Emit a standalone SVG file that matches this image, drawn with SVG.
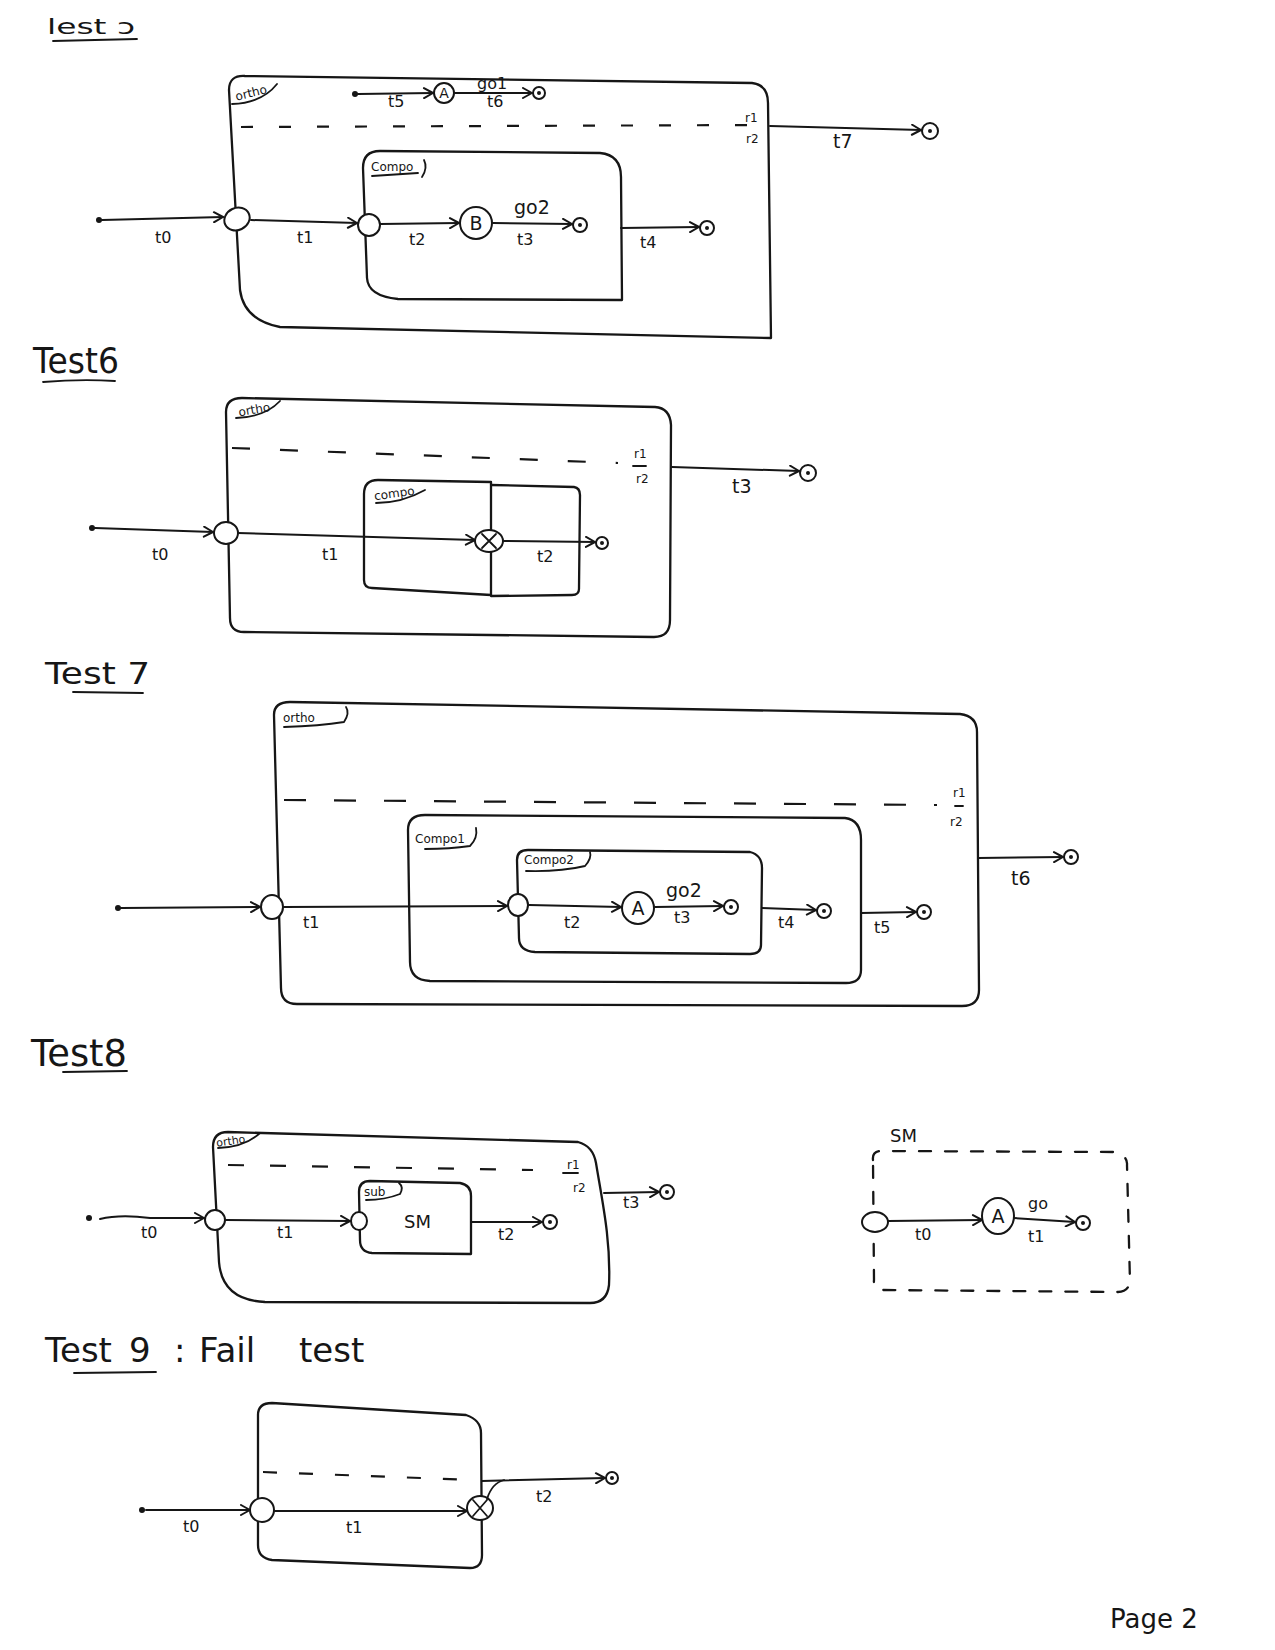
<svg xmlns="http://www.w3.org/2000/svg" width="1275" height="1650" viewBox="0 0 1275 1650">
  <defs>
    <style>
      .box { fill: none; stroke: #161616; stroke-width: 2.3; stroke-linejoin: round; stroke-linecap: round; }
      .ln { fill: none; stroke: #161616; stroke-width: 1.8; stroke-linecap: round; }
      .dash { fill: none; stroke: #161616; stroke-width: 2.2; }
      .edge { fill: none; stroke: #161616; stroke-width: 2; stroke-linecap: round; marker-end: url(#arr); }
      .st { fill: #fff; stroke: #161616; stroke-width: 2; }
      .fin { fill: #fff; stroke: #161616; stroke-width: 2; }
      .dot { fill: #161616; }
      .t { font-family: "DejaVu Sans", "Liberation Sans", sans-serif; fill: #161616; }
      .title { font-size: 32px; }
      .lbl { font-size: 16px; }
      .tag { font-size: 12px; }
      .big { font-size: 19px; }
    </style>
    <marker id="arr" viewBox="0 0 12 12" refX="11" refY="6" markerWidth="12" markerHeight="12" orient="auto" markerUnits="userSpaceOnUse">
      <path d="M2,1 L11,6 L2,11" fill="none" stroke="#161616" stroke-width="2" stroke-linecap="round" stroke-linejoin="round"/>
    </marker>
  </defs>

  <rect width="1275" height="1650" fill="#fff"/>

  <!-- ===== titles ===== -->
  <g id="titles">
    <text class="t" x="47" y="34" font-size="22" textLength="88" lengthAdjust="spacingAndGlyphs">lest ɔ</text>
    <path class="ln" d="M53,41 L137,39"/>
    <text class="t" x="33" y="373" font-size="36" textLength="86" lengthAdjust="spacingAndGlyphs">Test6</text>
    <path class="ln" d="M43,382 Q80,379 115,381"/>
    <text class="t" x="45" y="684" font-size="30" textLength="105" lengthAdjust="spacingAndGlyphs">Test  7</text>
    <path class="ln" d="M73,692 L143,693"/>
    <text class="t" x="31" y="1066" font-size="38" textLength="96" lengthAdjust="spacingAndGlyphs">Test8</text>
    <path class="ln" d="M63,1072 L127,1071"/>
    <text class="t" y="1362" font-size="34"><tspan x="45">Test</tspan><tspan x="129">9</tspan><tspan x="174">:</tspan><tspan x="199">Fail</tspan><tspan x="299">test</tspan></text>
    <path class="ln" d="M74,1373 L156,1372"/>
    <text class="t" x="1110" y="1628" font-size="26">Page 2</text>
  </g>

  <!-- ===== test 5 nodes ===== -->
  <g id="t5-ortho">
    <path class="box" d="M229,90 Q229,75 245,76 L752,83 Q768,85 768,103 L771,338 L280,327 Q244,320 240,290 Z"/>
    <text class="t tag" x="235" y="96" transform="rotate(-14 255 92)">ortho</text>
    <path class="ln" d="M232,104 Q262,103 277,84"/>
    <path class="dash" d="M241,127 L756,125" stroke-dasharray="12 26"/>
    <text class="t tag" x="745" y="122">r1</text>
    <text class="t tag" x="746" y="143">r2</text>
  </g>
  <g id="t5-init-top"><circle class="dot" cx="355" cy="94" r="3"/></g>
  <g id="t5-A"><circle class="st" cx="444" cy="93" r="10"/><text class="t" x="444" y="98" font-size="14" text-anchor="middle">A</text></g>
  <g id="t5-final-top"><circle class="fin" cx="539" cy="93" r="6"/><circle class="dot" cx="539" cy="93" r="2"/></g>
  <g id="t5-compo">
    <path class="box" d="M363,168 Q363,151 380,151 L600,153 Q621,155 621,177 L622,300 L398,299 Q368,296 367,278 Z"/>
    <text class="t tag" x="371" y="171" font-size="13">Compo</text>
    <path class="ln" d="M372,176 L418,173 M424,160 Q428,168 422,177"/>
  </g>
  <g id="t5-init"><circle class="dot" cx="99" cy="220" r="3"/></g>
  <g id="t5-entry"><ellipse class="st" cx="237" cy="219" rx="13" ry="11" transform="rotate(-25 237 219)"/></g>
  <g id="t5-compo-entry"><circle class="st" cx="369" cy="225" r="11"/></g>
  <g id="t5-B"><circle class="st" cx="476" cy="223" r="16"/><text class="t" x="476" y="230" font-size="19" text-anchor="middle">B</text></g>
  <g id="t5-final-compo"><circle class="fin" cx="580" cy="225" r="7"/><circle class="dot" cx="580" cy="225" r="2"/></g>
  <g id="t5-final-ortho"><circle class="fin" cx="707" cy="228" r="7"/><circle class="dot" cx="707" cy="228" r="2"/></g>
  <g id="t5-final-out"><circle class="fin" cx="930" cy="131" r="8"/><circle class="dot" cx="930" cy="131" r="2"/></g>

  <!-- ===== test 6 nodes ===== -->
  <g id="t6-ortho">
    <path class="box" d="M226,412 Q226,398 242,398 L655,407 Q670,408 671,425 L670,620 Q670,637 654,637 L244,632 Q230,632 230,618 Z"/>
    <text class="t tag" x="238" y="413" transform="rotate(-10 258 408)">ortho</text>
    <path class="ln" d="M236,418 Q265,417 280,401"/>
    <path class="dash" d="M232,448 L618,463" stroke-dasharray="18 30"/>
    <text class="t tag" x="634" y="458" font-size="13">r1</text>
    <path class="ln" d="M633,466 L646,466"/>
    <text class="t tag" x="636" y="483" font-size="13">r2</text>
  </g>
  <g id="t6-compo">
    <path class="box" d="M364,494 Q364,480 378,480 L491,482 L491,595 L372,588 Q364,588 364,580 Z"/>
    <path class="box" d="M491,485 L574,487 Q580,488 580,495 L579,589 Q579,595 572,595 L491,596"/>
    <text class="t tag" x="374" y="497" transform="rotate(-8 398 493)">compo</text>
    <path class="ln" d="M376,503 Q402,503 425,490"/>
  </g>
  <g id="t6-init"><circle class="dot" cx="92" cy="528" r="3"/></g>
  <g id="t6-entry"><ellipse class="st" cx="226" cy="533" rx="12" ry="11"/></g>
  <g id="t6-exit">
    <ellipse class="st" cx="489" cy="541" rx="14" ry="11"/>
    <path class="ln" d="M482,534 L496,548 M496,534 L482,548"/>
  </g>
  <g id="t6-final"><circle class="fin" cx="602" cy="543" r="6"/><circle class="dot" cx="602" cy="543" r="2"/></g>
  <g id="t6-final-out"><circle class="fin" cx="808" cy="473" r="8"/><circle class="dot" cx="808" cy="473" r="2"/></g>

  <!-- ===== test 7 nodes ===== -->
  <g id="t7-ortho">
    <path class="box" d="M274,715 Q274,702 290,702 L960,714 Q977,716 977,732 L979,990 Q979,1006 962,1006 L297,1004 Q281,1004 281,988 Z"/>
    <text class="t tag" x="283" y="722" font-size="13">ortho</text>
    <path class="ln" d="M284,727 Q320,726 344,722 Q350,713 346,707"/>
    <path class="dash" d="M284,800 L937,805" stroke-dasharray="22 28"/>
    <text class="t tag" x="953" y="797" font-size="14">r1</text>
    <path class="ln" d="M955,806 L963,806"/>
    <text class="t tag" x="950" y="826" font-size="14">r2</text>
  </g>
  <g id="t7-compo1">
    <path class="box" d="M408,830 Q408,815 425,815 L845,818 Q861,820 861,840 L861,970 Q861,983 846,983 L430,981 Q410,980 410,962 Z"/>
    <text class="t tag" x="415" y="843" font-size="13">Compo1</text>
    <path class="ln" d="M425,849 Q450,849 470,846 Q478,838 476,828"/>
  </g>
  <g id="t7-compo2">
    <path class="box" d="M517,860 Q517,850 528,850 L750,852 Q762,855 762,868 L761,945 Q761,954 750,954 L535,952 Q519,951 519,938 Z"/>
    <text class="t tag" x="524" y="864">Compo2</text>
    <path class="ln" d="M526,871 Q560,872 585,866 Q592,858 590,852"/>
  </g>
  <g id="t7-init"><circle class="dot" cx="118" cy="908" r="3"/></g>
  <g id="t7-entry"><ellipse class="st" cx="272" cy="907" rx="11" ry="12"/></g>
  <g id="t7-compo2-entry"><ellipse class="st" cx="518" cy="905" rx="10" ry="11"/></g>
  <g id="t7-A"><circle class="st" cx="638" cy="908" r="16"/><text class="t" x="638" y="915" font-size="19" text-anchor="middle">A</text></g>
  <g id="t7-final-c2"><circle class="fin" cx="731" cy="907" r="7"/><circle class="dot" cx="731" cy="907" r="2"/></g>
  <g id="t7-final-c1"><circle class="fin" cx="824" cy="911" r="7"/><circle class="dot" cx="824" cy="911" r="2"/></g>
  <g id="t7-final-ortho"><circle class="fin" cx="924" cy="912" r="7"/><circle class="dot" cx="924" cy="912" r="2"/></g>
  <g id="t7-final-out"><circle class="fin" cx="1071" cy="857" r="7"/><circle class="dot" cx="1071" cy="857" r="2"/></g>

  <!-- ===== test 8 nodes ===== -->
  <g id="t8-ortho">
    <path class="box" d="M213,1147 Q213,1132 228,1132 L578,1142 Q593,1146 596,1163 C602,1200 611,1240 609,1285 Q607,1303 590,1303 L265,1302 Q222,1300 219,1262 Z"/>
    <text class="t" x="216" y="1144" font-size="11" transform="rotate(-8 236 1140)">ortho</text>
    <path class="ln" d="M218,1148 Q245,1147 260,1133"/>
    <path class="dash" d="M228,1165 L533,1170" stroke-dasharray="16 26"/>
    <text class="t tag" x="567" y="1169" font-size="13">r1</text>
    <path class="ln" d="M563,1173 L578,1173"/>
    <text class="t tag" x="573" y="1192" font-size="13">r2</text>
  </g>
  <g id="t8-sub">
    <path class="box" d="M359,1192 Q359,1181 370,1181 L460,1183 Q471,1185 471,1196 L471,1254 L372,1253 Q360,1252 360,1240 Z"/>
    <text class="t tag" x="364" y="1196">sub</text>
    <path class="ln" d="M366,1200 Q385,1200 400,1194 Q404,1187 399,1183"/>
    <text class="t" x="404" y="1228" font-size="18">SM</text>
  </g>
  <g id="t8-init"><circle class="dot" cx="89" cy="1218" r="3"/></g>
  <g id="t8-entry"><circle class="st" cx="215" cy="1220" r="10"/></g>
  <g id="t8-sub-entry"><ellipse class="st" cx="359" cy="1221" rx="8" ry="9"/></g>
  <g id="t8-final-sub"><circle class="fin" cx="550" cy="1222" r="7"/><circle class="dot" cx="550" cy="1222" r="2"/></g>
  <g id="t8-final-out"><circle class="fin" cx="667" cy="1192" r="7"/><circle class="dot" cx="667" cy="1192" r="2"/></g>

  <!-- ===== SM submachine nodes ===== -->
  <g id="sm-machine">
    <text class="t" x="890" y="1142" font-size="18">SM</text>
    <path class="box" d="M873,1160 Q872,1152 880,1151 L1113,1152 Q1128,1155 1127,1165 L1130,1282 Q1128,1292 1118,1292 L882,1290 Q873,1289 874,1280 Z" stroke-dasharray="12 14"/>
  </g>
  <g id="sm-entry"><ellipse class="st" cx="875" cy="1222" rx="13" ry="10"/></g>
  <g id="sm-A"><ellipse class="st" cx="998" cy="1216" rx="16" ry="18"/><text class="t" x="998" y="1223" font-size="19" text-anchor="middle">A</text></g>
  <g id="sm-final"><circle class="fin" cx="1083" cy="1223" r="7"/><circle class="dot" cx="1083" cy="1223" r="2"/></g>

  <!-- ===== test 9 nodes ===== -->
  <g id="t9-region">
    <path class="box" d="M258,1415 Q258,1403 272,1403 L466,1415 Q481,1420 481,1433 L482,1555 Q482,1568 470,1568 L272,1560 Q258,1558 258,1545 Z"/>
    <path class="dash" d="M263,1472 L473,1480" stroke-dasharray="14 22"/>
  </g>
  <g id="t9-init"><circle class="dot" cx="142" cy="1510" r="3"/></g>
  <g id="t9-entry"><circle class="st" cx="262" cy="1510" r="12"/></g>
  <g id="t9-exit">
    <ellipse class="st" cx="480" cy="1508" rx="13" ry="12"/>
    <path class="ln" d="M473,1500 L487,1516 M487,1500 L473,1516"/>
  </g>
  <g id="t9-final"><circle class="fin" cx="612" cy="1478" r="6"/><circle class="dot" cx="612" cy="1478" r="2"/></g>

  <!-- ===== transitions ===== -->
  <g id="connectors">
    <g id="conn-t5">
      <path class="edge" d="M358,94 L433,93"/>
      <path class="edge" d="M455,93 L532,93"/>
      <path class="edge" d="M102,220 L223,217"/>
      <path class="edge" d="M251,220 L357,223"/>
      <path class="edge" d="M380,224 L459,223"/>
      <path class="edge" d="M493,223 L572,224"/>
      <path class="edge" d="M621,228 L699,227"/>
      <path class="edge" d="M770,126 L921,130"/>
      <text class="t lbl" x="388" y="107" font-size="13">t5</text>
      <text class="t lbl" x="477" y="89" font-size="11">go1</text>
      <text class="t lbl" x="487" y="107" font-size="13">t6</text>
      <text class="t lbl" x="155" y="243" font-size="17">t0</text>
      <text class="t lbl" x="297" y="243">t1</text>
      <text class="t lbl" x="409" y="245">t2</text>
      <text class="t big" x="514" y="214">go2</text>
      <text class="t lbl" x="517" y="245" font-size="17">t3</text>
      <text class="t lbl" x="640" y="248" font-size="17">t4</text>
      <text class="t big" x="833" y="148">t7</text>
    </g>
    <g id="conn-t6">
      <path class="edge" d="M95,528 L213,532"/>
      <path class="edge" d="M238,533 L475,540"/>
      <path class="edge" d="M503,541 L595,542"/>
      <path class="edge" d="M672,467 L799,471"/>
      <text class="t lbl" x="152" y="560" font-size="17">t0</text>
      <text class="t lbl" x="322" y="560">t1</text>
      <text class="t lbl" x="537" y="562" font-size="17">t2</text>
      <text class="t big" x="732" y="493">t3</text>
    </g>
    <g id="conn-t7">
      <path class="edge" d="M121,908 L260,907"/>
      <path class="edge" d="M284,907 L507,906"/>
      <path class="edge" d="M529,905 L621,907"/>
      <path class="edge" d="M655,907 L723,906"/>
      <path class="edge" d="M762,908 L816,910"/>
      <path class="edge" d="M861,913 L916,912"/>
      <path class="edge" d="M978,858 L1063,857"/>
      <text class="t lbl" x="303" y="928">t1</text>
      <text class="t lbl" x="564" y="928">t2</text>
      <text class="t big" x="666" y="897">go2</text>
      <text class="t lbl" x="674" y="923" font-size="17">t3</text>
      <text class="t lbl" x="778" y="928">t4</text>
      <text class="t lbl" x="874" y="933">t5</text>
      <text class="t big" x="1011" y="885">t6</text>
    </g>
    <g id="conn-t8">
      <path class="edge" d="M100,1219 Q120,1214 150,1218 L204,1218"/>
      <path class="edge" d="M226,1220 L350,1221"/>
      <path class="edge" d="M471,1222 L542,1222"/>
      <path class="edge" d="M604,1193 L659,1192"/>
      <text class="t lbl" x="141" y="1238">t0</text>
      <text class="t lbl" x="277" y="1238">t1</text>
      <text class="t lbl" x="498" y="1240">t2</text>
      <text class="t lbl" x="623" y="1208" font-size="14">t3</text>
    </g>
    <g id="conn-sm">
      <path class="edge" d="M888,1221 L982,1220"/>
      <path class="edge" d="M1014,1218 L1075,1222"/>
      <text class="t lbl" x="915" y="1240">t0</text>
      <text class="t lbl" x="1028" y="1209">go</text>
      <text class="t lbl" x="1028" y="1242">t1</text>
    </g>
    <g id="conn-t9">
      <path class="edge" d="M146,1510 L250,1510"/>
      <path class="edge" d="M274,1511 L467,1511"/>
      <path class="ln" d="M487,1499 Q492,1483 504,1480"/>
      <path class="edge" d="M482,1481 L605,1478"/>
      <text class="t lbl" x="183" y="1532" font-size="17">t0</text>
      <text class="t lbl" x="346" y="1533">t1</text>
      <text class="t lbl" x="536" y="1502">t2</text>
    </g>
  </g>
</svg>
